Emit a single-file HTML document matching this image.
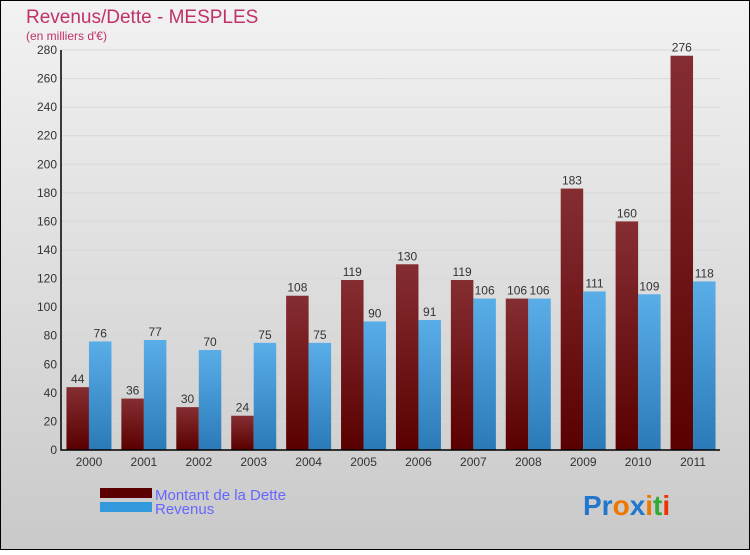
<!DOCTYPE html>
<html><head><meta charset="utf-8"><style>
body{margin:0;width:750px;height:550px;overflow:hidden;font-family:"Liberation Sans",sans-serif}
</style></head><body>
<svg width="750" height="550" xmlns="http://www.w3.org/2000/svg">
<defs>
<linearGradient id="bg" x1="0" y1="0" x2="0" y2="1"><stop offset="0" stop-color="#f2f2f2"/><stop offset="1" stop-color="#c9c9c9"/></linearGradient>
<linearGradient id="gd" x1="0" y1="0" x2="0" y2="1"><stop offset="0" stop-color="#852e32"/><stop offset="1" stop-color="#5a0000"/></linearGradient>
<linearGradient id="gr" x1="0" y1="0" x2="0" y2="1"><stop offset="0" stop-color="#5aaee8"/><stop offset="1" stop-color="#2a7ab8"/></linearGradient>
</defs>
<rect x="0.5" y="0.5" width="749" height="549" fill="url(#bg)" stroke="#000"/>
<text x="26" y="23" font-size="19" fill="#c0306a">Revenus/Dette - MESPLES</text>
<text x="26" y="40" font-size="12" fill="#c0306a">(en milliers d'€)</text>
<g id="grid"></g><g id="bars"></g><g id="axes"></g>
<rect x="100" y="488" width="52" height="10" fill="#5a0000"/>
<rect x="100" y="502" width="52" height="10" fill="#3399dd"/>
<text x="155" y="500" font-size="15" fill="#6666ff">Montant de la Dette</text>
<text x="155" y="514" font-size="15" fill="#6666ff">Revenus</text>
<text x="583" y="515" font-size="28" font-weight="bold"><tspan fill="#2277cc">Pr</tspan><tspan fill="#ee7700">o</tspan><tspan fill="#2277cc">x</tspan><tspan fill="#ee7700">i</tspan><tspan fill="#33aa33">t</tspan><tspan fill="#ee3300">i</tspan></text>
</svg>
<script>
const years=["2000","2001","2002","2003","2004","2005","2006","2007","2008","2009","2010","2011"];
const dette=[44,36,30,24,108,119,130,119,106,183,160,276];
const revenus=[76,77,70,75,75,90,91,106,106,111,109,118];
const ticks=[0,20,40,60,80,100,120,140,160,180,200,220,240,260,280];
const NS="http://www.w3.org/2000/svg";
const x0=61,x1=720,y0=450,yTop=50,maxV=280;
const yS=v=>y0-(v/maxV)*(y0-yTop);
const gw=(x1-x0)/years.length;
function mk(t,a,p){const e=document.createElementNS(NS,t);for(const k in a)e.setAttribute(k,a[k]);p.appendChild(e);return e;}
const G=document.getElementById('grid'),B=document.getElementById('bars'),A=document.getElementById('axes');
ticks.forEach(t=>{
 const l=mk('line',{x1:x0,x2:x1,y1:yS(t),y2:yS(t),stroke:'#d8d8d8','stroke-width':1},G);
 
 
 const tx=mk('text',{x:x0-4,y:yS(t)+4,'font-size':12,'text-anchor':'end',fill:'#333'},A);
 tx.textContent=t;
 
 
});
years.forEach((yr,i)=>{
 const c=x0+gw*(i+0.5)+0.5,bw=22.5;
 const r1=mk('rect',{x:c-bw,y:yS(dette[i]),width:bw,height:y0-yS(dette[i]),fill:'url(#gd)'},B);
 
 
 const r2=mk('rect',{x:c,y:yS(revenus[i]),width:bw,height:y0-yS(revenus[i]),fill:'url(#gr)'},B);
 
 
 const t1=mk('text',{x:c-bw/2,y:yS(dette[i])-4,'font-size':12,'text-anchor':'middle',fill:'#333'},B);
 t1.textContent=dette[i];
 
 
 const t2=mk('text',{x:c+bw/2,y:yS(revenus[i])-4,'font-size':12,'text-anchor':'middle',fill:'#333'},B);
 t2.textContent=revenus[i];
 
 
 const xl=mk('text',{x:c,y:466,'font-size':12,'text-anchor':'middle',fill:'#333'},A);
 xl.textContent=yr;
 
 
});
const ax=mk('path',{d:`M${x0} ${yTop} V${y0} H${x1}`,stroke:'#000','stroke-width':1.5,fill:'none'},A);


</script>
</body></html>
